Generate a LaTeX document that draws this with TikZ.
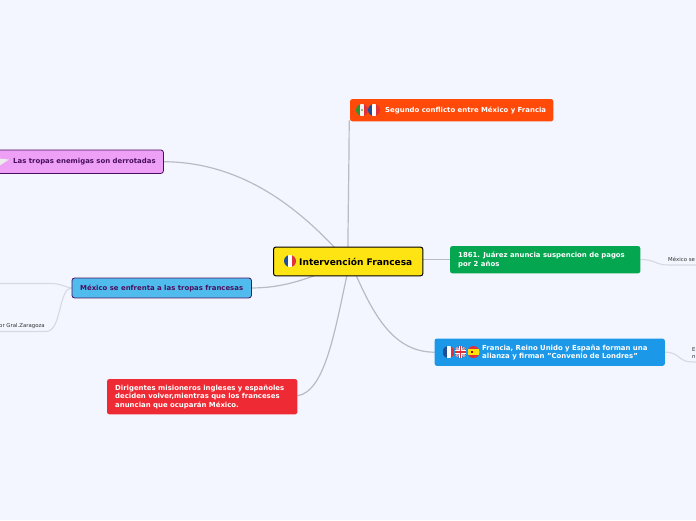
\documentclass[tikz,border=0pt]{standalone}
\usepackage{fontspec}
\setmainfont{DejaVu Sans}
\definecolor{bgc}{HTML}{F3F6FE}
\definecolor{linec}{HTML}{B8BBC4}
\definecolor{sublinec}{HTML}{D6D9E2}
\definecolor{orangec}{HTML}{FF4A0A}
\definecolor{pinkc}{HTML}{EDA0F5}
\definecolor{purpc}{HTML}{4A0E5E}
\definecolor{yelc}{HTML}{FFE414}
\definecolor{greenc}{HTML}{04A650}
\definecolor{bluec}{HTML}{1C98E8}
\definecolor{skyc}{HTML}{50BCEE}
\definecolor{redc}{HTML}{EE2A34}
\definecolor{frblue}{HTML}{1F4E96}
\definecolor{frred}{HTML}{E0303A}
\tikzset{
 x=1pt,y=-1pt,
 box/.style={rounded corners=2.5pt,anchor=north west,inner sep=0pt},
 lab/.style={font=\bfseries\fontsize{6.92}{8.6}\selectfont,align=left,anchor=west,inner sep=0pt},
 small/.style={font=\fontsize{5.4}{6.4}\selectfont,text=black!80,align=left,anchor=west,inner sep=0pt},
 conn/.style={draw=linec,line width=1.2pt},
 subconn/.style={draw=sublinec,line width=1.1pt},
}
\newcommand{\flagclip}[3]{\path[clip] (#1,#2) circle[radius=#3pt];}
\newcommand{\frflag}[2]{\begin{scope}\flagclip{#1}{#2}{6}
 \fill[frblue] (#1-6,#2-6) rectangle (#1-2,#2+6);
 \fill[white] (#1-2,#2-6) rectangle (#1+2,#2+6);
 \fill[frred] (#1+2,#2-6) rectangle (#1+6,#2+6);\end{scope}}
\newcommand{\mxflag}[2]{\begin{scope}\flagclip{#1}{#2}{6}
 \fill[green!45!black!80] (#1-6,#2-6) rectangle (#1-2,#2+6);
 \fill[white!90!gray] (#1-2,#2-6) rectangle (#1+2,#2+6);
 \fill[frred] (#1+2,#2-6) rectangle (#1+6,#2+6);
 \fill[green!30!brown] (#1,#2) circle[radius=1.2pt];\end{scope}}
\newcommand{\ukflag}[2]{\begin{scope}\flagclip{#1}{#2}{6}
 \fill[frblue!80!white] (#1-6,#2-6) rectangle (#1+6,#2+6);
 \draw[white,line width=2pt] (#1-6,#2-6) -- (#1+6,#2+6) (#1-6,#2+6) -- (#1+6,#2-6);
 \draw[frred,line width=.7pt] (#1-6,#2-6) -- (#1+6,#2+6) (#1-6,#2+6) -- (#1+6,#2-6);
 \draw[white,line width=3.2pt] (#1-6,#2) -- (#1+6,#2) (#1,#2-6) -- (#1,#2+6);
 \draw[frred,line width=1.8pt] (#1-6,#2) -- (#1+6,#2) (#1,#2-6) -- (#1,#2+6);\end{scope}}
\newcommand{\esflag}[2]{\begin{scope}\flagclip{#1}{#2}{6}
 \fill[frred] (#1-6,#2-6) rectangle (#1+6,#2+6);
 \fill[yellow!85!orange] (#1-6,#2-2.8) rectangle (#1+6,#2+2.8);
 \fill[red!70!black] (#1-2.6,#2-1.2) rectangle (#1-.6,#2+1.2);\end{scope}}
\begin{document}
\begin{tikzpicture}
\useasboundingbox (0,0) rectangle (696,520);
\fill[bgc] (0,0) rectangle (696,520);
% free ends
\coordinate (leftA) at (0,283.5);
\coordinate (leftB) at (0,331.5);
\coordinate (rightA) at (696,265);
\coordinate (rightB) at (696,362);
% anchors for the boxes, so connectors go under them
\path node[box,minimum width=203pt,minimum height=22pt] (orange) at (350,99) {}
 node[box,minimum width=175pt,minimum height=23pt] (pink) at (-12,150) {}
 node[box,minimum width=149pt,minimum height=28.5pt] (main) at (273.5,247) {}
 node[box,minimum width=190pt,minimum height=27pt] (green) at (450,246) {}
 node[box,minimum width=230pt,minimum height=27pt] (blue) at (434.5,338.5) {}
 node[box,minimum width=179pt,minimum height=19.5pt] (sky) at (72,278) {}
 node[box,minimum width=190pt,minimum height=35pt] (red) at (107,379) {};
% connectors
\begin{scope}[conn]
\draw (orange.south west) ++(-.8,-1) .. controls (349,170) and (348,215) .. (348,248);
\draw (pink.east) .. controls (235,162) and (290,200) .. (335,248);
\draw (main.east |- green.west) -- (green.west);
\draw (356,275) .. controls (375,318) and (395,352) .. (blue.west);
\draw (sky.east) .. controls (275,288) and (295,283) .. (316,275);
\draw (red.east) ++(0,-1) .. controls (325,392) and (335,330) .. (347,275);
\end{scope}
\begin{scope}[subconn]
\draw (green.east) .. controls (655,259) and (655,265) .. (668,265) -- (rightA);
\draw (blue.east) .. controls (680,352) and (678,362) .. (692,362) -- (rightB);
\draw (sky.west) .. controls (64,287) and (62,283.5) .. (50,283.5) -- (leftA);
\draw (sky.west) .. controls (58,288) and (62,331.5) .. (46,331.5) -- (leftB);
\end{scope}
% boxes
\path[fill=orangec,rounded corners=2.5pt] (orange.north west) rectangle (orange.south east);
\path[fill=pinkc,draw=purpc,line width=.8pt,rounded corners=2.5pt] (pink.north west) rectangle (pink.south east);
\path[fill=yelc,draw=black,line width=1pt,rounded corners=2.5pt] (main.north west) rectangle (main.south east);
\path[fill=greenc,rounded corners=2.5pt] (green.north west) rectangle (green.south east);
\path[fill=bluec,rounded corners=2.5pt] (blue.north west) rectangle (blue.south east);
\path[fill=skyc,draw=purpc,line width=.8pt,rounded corners=2.5pt] (sky.north west) rectangle (sky.south east);
\path[fill=redc,rounded corners=2.5pt] (red.north west) rectangle (red.south east);
% text
\node[lab,text=white] at (385,110.5) {Segundo conflicto entre México y Francia};
\node[lab,text=purpc] at (13,162) {Las tropas enemigas son derrotadas};
\node[font=\bfseries\fontsize{9.05}{11}\selectfont,anchor=west,inner sep=0pt] at (299,262) {Intervención Francesa};
\node[lab,text=white] at (458,260) {1861. Juárez anuncia suspencion de pagos\\por 2 años};
\node[lab,text=white] at (482,352.5) {Francia, Reino Unido y España forman una\\alianza y firman "Convenio de Londres"};
\node[lab,text=purpc] at (80,288) {México se enfrenta a las tropas francesas};
\node[lab,text=white] at (115,397) {Dirigentes misioneros ingleses y españoles\\deciden volver,mientras que los franceses\\anuncian que ocuparán México.};
\node[small] at (668,259.5) {México se};
\node[small] at (692,349.5) {E};
\node[small] at (692,356.5) {n};
\node[small,anchor=east] at (45,326.5) {or Gral.Zaragoza};
% flags
\mxflag{362}{110}
\frflag{374}{110}
\frflag{290}{261}
\frflag{448.5}{352}
\ukflag{460.5}{352}
\esflag{473.5}{352}
\fill[white!85!gray] (-1,158.5) -- (9,159.5) -- (-1,166) -- cycle;
\end{tikzpicture}
\end{document}
